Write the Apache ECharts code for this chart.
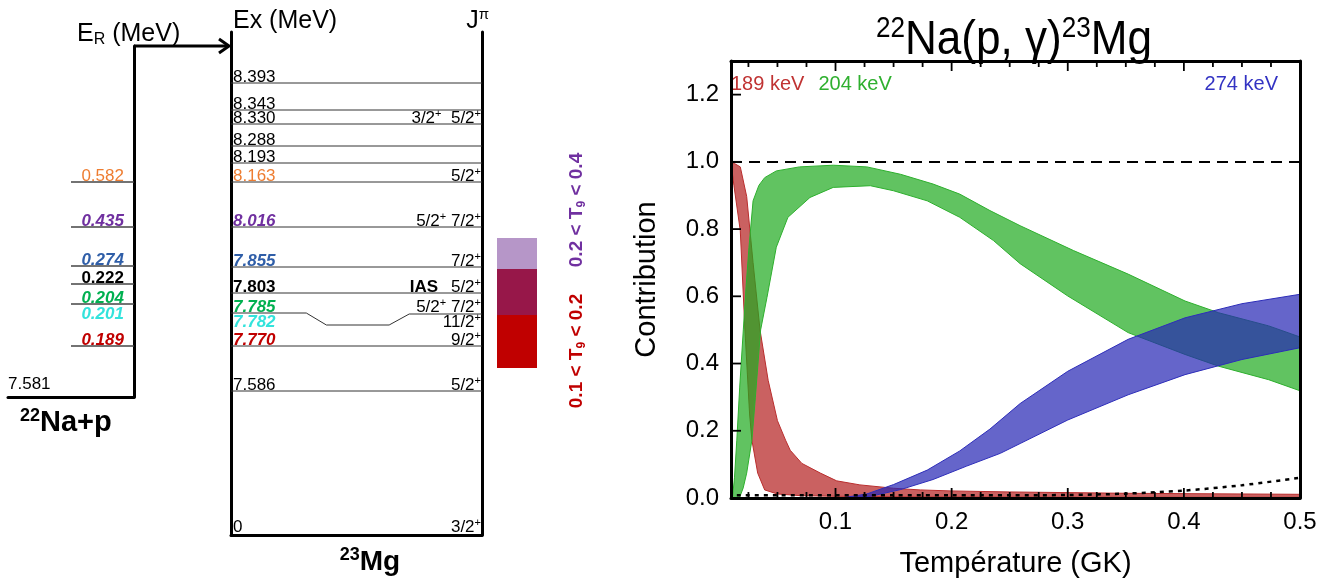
<!DOCTYPE html>
<html><head><meta charset="utf-8">
<script src="https://cdn.jsdelivr.net/npm/echarts@6/dist/echarts.min.js"></script>
<style>html,body{margin:0;padding:0;background:#fff}#c{width:1336px;height:582px}</style>
</head><body><div id="c"></div>
<script>
// ================= DATA =================
// Level scheme (schematic heights in arbitrary "slot" units)
const erLabels  = ['0.582','0.435','0.274','0.222','0.204','0.201','0.189'];
const erSlots   = [35.3, 30.8, 26.9, 25.1, 23.1, 21.5, 18.9];
const erHasLine = [true, true, true, true, true, false, true];
const erKey     = ['r582','r435','r274','r222','r204','r201','r189'];

const mgLabels = ['8.393','8.343','8.330','8.288','8.193','8.163','8.016','7.855','7.803','7.785','7.782','7.770','7.586','0'];
const mgSlots  = [45.2, 42.5, 41.1, 38.9, 37.2, 35.3, 30.8, 26.8, 24.2, 22.2, 20.7, 18.9, 14.4, 0];
const mgJpi    = ['','','3/2+  5/2+','','','5/2+','5/2+ 7/2+','7/2+','5/2+','5/2+ 7/2+','11/2+','9/2+','5/2+','3/2+'];
const mgNote   = ['','','','','','','','','IAS','','','','',''];
const mgLine   = ['line','line','line','line','line','line','line','line','line','kink','none','line','line','axis'];
const mgKey    = [null,null,null,null,null,'r582','r435','r274','r222','r204','r201','r189',null,null];

const naThreshold = '7.581';
const windowLabels = ['0.1 < T|9| < 0.2', '0.2 < T|9| < 0.4'];
const windowLow  = [16.7, 22.0];
const windowHigh = [26.6, 29.7];

// Contribution plot
const xMajorTicks = [0.1, 0.2, 0.3, 0.4, 0.5];
const xMinorTicks = [0.025,0.05,0.075,0.125,0.15,0.175,0.225,0.25,0.275,0.325,0.35,0.375,0.425,0.45,0.475];
const yTicks = [0, 0.2, 0.4, 0.6, 0.8, 1.0, 1.2];
const unityLevel = 1.0;

const redUpT = [0.010,0.013,0.018,0.0235,0.029,0.035,0.042,0.050,0.057,0.061,0.071,0.087,0.101,0.121,0.150,0.173,0.20,0.25,0.30,0.35,0.40,0.45,0.50];
const redUp  = [1.00, 0.995,0.985,0.897, 0.70, 0.50, 0.35, 0.23, 0.172,0.142,0.103,0.074,0.051,0.039,0.029,0.024,0.021,0.018,0.016,0.014,0.013,0.012,0.011];
const redLoT = [0.010,0.0125,0.018,0.022,0.026,0.028,0.033,0.039,0.050,0.070,0.10,0.20,0.30,0.40,0.50];
const redLo  = [1.00, 0.93,  0.795,0.50, 0.25, 0.172,0.074,0.024,0.012,0.007,0.005,0.003,0.002,0.002,0.002];

const greenUpT = [0.0112,0.013,0.015,0.0175,0.0206,0.023,0.0255,0.029,0.034,0.039,0.049,0.069,0.098,0.127,0.156,0.184,0.207,0.233,0.259,0.305,0.352,0.401,0.430,0.473,0.50];
const greenUp  = [0.0,   0.06, 0.172,0.33,  0.50,  0.63, 0.746, 0.884,0.93, 0.953,0.973,0.985,0.99, 0.985,0.963,0.934,0.904,0.855,0.81, 0.736,0.666,0.586,0.551,0.512,0.479];
const greenLoT = [0.0172,0.0205,0.0235,0.028,0.031,0.0355,0.041,0.049,0.059,0.078,0.098,0.130,0.150,0.179,0.207,0.236,0.259,0.300,0.352,0.401,0.430,0.473,0.500];
const greenLo  = [0.0,   0.03,  0.074, 0.172,0.30, 0.50,  0.597,0.746,0.835,0.894,0.924,0.929,0.914,0.884,0.835,0.766,0.697,0.601,0.492,0.427,0.392,0.352,0.319];

const blueUpT = [0.105,0.127,0.150,0.179,0.207,0.233,0.259,0.300,0.352,0.401,0.450,0.500];
const blueUp  = [0.0,  0.012,0.040,0.083,0.140,0.205,0.281,0.377,0.472,0.536,0.578,0.606];
const blueLoT = [0.105,0.130,0.156,0.184,0.213,0.242,0.259,0.300,0.352,0.401,0.450,0.500];
const blueLo  = [0.0,  0.005,0.025,0.055,0.095,0.133,0.162,0.232,0.307,0.367,0.412,0.447];

const dotT = [0.015,0.05,0.10,0.15,0.20,0.25,0.30,0.35,0.40,0.45,0.50];
const dotV = [0.008,0.008,0.008,0.008,0.008,0.008,0.009,0.013,0.022,0.038,0.060];

const bandNames = ['189 keV', '204 keV', '274 keV'];

// ================= STYLE / LAYOUT =================
const FONT = 'Liberation Sans, Arial, sans-serif';
const NARROW = '"Liberation Sans Narrow", "Arial Narrow", "Liberation Sans", sans-serif';
const RES_STYLE = {
  r582: {fill:'#ee7d31', fontWeight:'normal', fontStyle:'normal'},
  r435: {fill:'#7030a0', fontWeight:'bold', fontStyle:'italic'},
  r274: {fill:'#2f5ea8', fontWeight:'bold', fontStyle:'italic'},
  r222: {fill:'#000000', fontWeight:'bold', fontStyle:'normal'},
  r204: {fill:'#00b050', fontWeight:'bold', fontStyle:'italic'},
  r201: {fill:'#33e3dc', fontWeight:'bold', fontStyle:'italic'},
  r189: {fill:'#c00000', fontWeight:'bold', fontStyle:'italic'}
};
const PLAIN = {fill:'#000', fontWeight:'normal', fontStyle:'normal'};
const BAND_FILL   = ['rgba(180,30,30,0.7)', 'rgba(30,170,30,0.7)', 'rgba(35,35,180,0.7)'];
const BAND_STROKE = ['rgb(185,45,45)', 'rgb(45,175,45)', 'rgb(45,45,185)'];
const BAND_TEXT   = ['#c03333', '#2fb02f', '#3333c3'];
const WINDOW_FILL = ['#c00000', 'rgba(110,45,145,0.5)'];
const WINDOW_TEXT = ['#c00000', '#7030a0'];
const X_MIN = 0.01, X_MAX = 0.5, Y_MIN = 0, Y_MAX = 1.3;
const TICK_MAJOR = 10, TICK_MINOR = 6;

const L = {
  na:   {left: 8,   top: 46, width: 126, height: 351},
  mg:   {left: 231, top: 32, width: 251, height: 503},
  win:  {left: 497, top: 32, width: 40,  height: 503},
  plot: {left: 731, top: 61, width: 569, height: 437}
};
const MG_MAX = 50.3;
const pxPerSlot = L.mg.height / MG_MAX;
const mgBottom = L.mg.top + L.mg.height;
const naMin = (mgBottom - (L.na.top + L.na.height)) / pxPerSlot;
const naMax = (mgBottom - L.na.top) / pxPerSlot;
const LBL = 17;

function jpiRich(s) {
  return s.split('+').map((p, i, arr) => (p ? '{n|' + p + '}' : '') + (i < arr.length - 1 ? '{p|+}' : '')).join('');
}
const JPI_RICH = {
  n: {fontSize: LBL, fontFamily: FONT, fill: '#000', lineHeight: 20},
  p: {fontSize: 11, fontFamily: FONT, fill: '#000', lineHeight: 12, verticalAlign: 'top'}
};
function lblText(x, y, text, st, align) {
  return {type: 'text', x: x, y: y, style: {text: text, fill: st.fill, fontSize: LBL, fontFamily: FONT,
    fontWeight: st.fontWeight, fontStyle: st.fontStyle, align: align, verticalAlign: 'middle'}};
}

// ================= SERIES =================
const naSeries = {
  type: 'custom', name: 'ER', xAxisIndex: 0, yAxisIndex: 0, silent: true, clip: false,
  data: erSlots.map(s => [0, s]),
  renderItem(params, api) {
    const i = params.dataIndex, s = api.value(1);
    const a = api.coord([0.5, s]), b = api.coord([1, s]), t = api.coord([0.92, s]);
    const ch = [];
    if (erHasLine[i]) ch.push({type: 'line', shape: {x1: a[0], y1: a[1], x2: b[0], y2: b[1]}, style: {stroke: '#444', lineWidth: 1.3}});
    ch.push(lblText(t[0], t[1] - 5.5, erLabels[i], RES_STYLE[erKey[i]] || PLAIN, 'right'));
    return {type: 'group', children: ch};
  }
};

const mgSeries = {
  type: 'custom', name: 'Mg', xAxisIndex: 1, yAxisIndex: 1, silent: true, clip: false,
  data: mgSlots.map(s => [0, s]),
  renderItem(params, api) {
    const i = params.dataIndex, s = api.value(1);
    const pL = api.coord([0, s]), pR = api.coord([1, s]);
    const fx = f => api.coord([f, s])[0];
    const ch = [];
    const kind = mgLine[i];
    if (kind === 'line') ch.push({type: 'line', shape: {x1: pL[0], y1: pL[1], x2: pR[0], y2: pR[1]}, style: {stroke: '#333', lineWidth: 1}});
    if (kind === 'kink') {
      const dy = api.coord([0, s - 1.2])[1];
      ch.push({type: 'polyline', shape: {points: [pL, [fx(0.3), pL[1]], [fx(0.38), dy], [fx(0.63), dy], [fx(0.71), pL[1] + 1], [pR[0], pR[1] + 1]]},
        style: {stroke: '#333', lineWidth: 1, fill: null}});
    }
    const off = kind === 'axis' ? 8 : 5.5;
    const st = RES_STYLE[mgKey[i]] || PLAIN;
    ch.push(lblText(pL[0] + 2, pL[1] - off, mgLabels[i], st, 'left'));
    if (mgJpi[i]) ch.push({type: 'text', x: pR[0] - 1, y: pL[1] - off, style: {text: jpiRich(mgJpi[i]), rich: JPI_RICH, align: 'right', verticalAlign: 'middle', fill: '#000'}});
    if (mgNote[i]) ch.push(lblText(pR[0] - 44, pL[1] - off, mgNote[i], {fill: '#000', fontWeight: 'bold', fontStyle: 'normal'}, 'right'));
    return {type: 'group', children: ch};
  }
};

const winSeries = {
  type: 'custom', name: 'windows', xAxisIndex: 2, yAxisIndex: 3, silent: true, clip: false,
  data: windowLow.map((lo, i) => [0, lo, windowHigh[i]]),
  renderItem(params, api) {
    const i = params.dataIndex;
    const p0 = api.coord([0, api.value(2)]), p1 = api.coord([1, api.value(1)]);
    return {type: 'rect', shape: {x: p0[0], y: p0[1], width: p1[0] - p0[0], height: p1[1] - p0[1]}, style: {fill: WINDOW_FILL[i]}};
  }
};

function bandSeries(k, upT, up, loT, lo) {
  return {
    type: 'custom', name: bandNames[k], xAxisIndex: 3, yAxisIndex: 4, clip: true, silent: true,
    data: [[upT[0], up[0]]],
    renderItem(params, api) {
      const pts = upT.map((t, j) => api.coord([t, up[j]]));
      for (let j = loT.length - 1; j >= 0; j--) pts.push(api.coord([loT[j], lo[j]]));
      return {type: 'polygon', shape: {points: pts}, style: {fill: BAND_FILL[k], stroke: BAND_STROKE[k], lineWidth: 1}};
    }
  };
}

const dotSeries = {
  type: 'line', name: 'total', xAxisIndex: 3, yAxisIndex: 4, silent: true,
  data: dotT.map((t, j) => [t, dotV[j]]), symbol: 'none', smooth: 0.3,
  lineStyle: {color: '#000', width: 2.5, type: [4, 5]}, z: 5,
  markLine: {silent: true, symbol: ['none', 'none'], label: {show: false},
    lineStyle: {color: '#000', width: 2, type: [11, 7]}, data: [{yAxis: unityLevel}]}
};

// Frame tick marks (inside), placed through the plot's own scales
const tickItems = []
  .concat(xMajorTicks.map(v => [v, Y_MIN, 0]))
  .concat(xMinorTicks.map(v => [v, Y_MIN, 1]))
  .concat(yTicks.map(v => [X_MIN, v, 2]));
const tickSeries = {
  type: 'custom', name: 'ticks', xAxisIndex: 3, yAxisIndex: 4, silent: true, clip: false, z: 20,
  data: tickItems,
  renderItem(params, api) {
    const kind = api.value(2);
    const st = {stroke: '#000', lineWidth: 1.8};
    if (kind === 2) {
      const p = api.coord([X_MIN, api.value(1)]);
      return {type: 'line', shape: {x1: p[0], y1: p[1], x2: p[0] + TICK_MAJOR, y2: p[1]}, style: st};
    }
    const len = kind === 0 ? TICK_MAJOR : TICK_MINOR;
    const b = api.coord([api.value(0), Y_MIN]), t = api.coord([api.value(0), Y_MAX]);
    return {type: 'group', children: [
      {type: 'line', shape: {x1: b[0], y1: b[1], x2: b[0], y2: b[1] - len}, style: st},
      {type: 'line', shape: {x1: t[0], y1: t[1], x2: t[0], y2: t[1] + len}, style: st}
    ]};
  }
};

// ================= AXES =================
function hid() { return {show: false}; }
function frameLine() { return {show: true, onZero: false, lineStyle: {color: '#000', width: 3}}; }
function frameAxis(extra) {
  return Object.assign({type: 'value', axisLine: frameLine(), axisTick: hid(), axisLabel: hid(), splitLine: hid()}, extra);
}

const xAxes = [
  frameAxis({gridIndex: 0, min: 0, max: 1, position: 'bottom'}),
  frameAxis({gridIndex: 1, min: 0, max: 1, position: 'bottom'}),
  {gridIndex: 2, type: 'value', min: 0, max: 1, show: false},
  {gridIndex: 3, type: 'value', min: X_MIN, max: X_MAX, position: 'bottom', z: 10,
    axisLine: frameLine(), axisTick: hid(),
    axisLabel: {show: true, customValues: xMajorTicks, formatter: v => v.toFixed(1), color: '#000', fontSize: 24, margin: 12, fontFamily: FONT},
    splitLine: hid(),
    name: 'Température (GK)', nameLocation: 'middle', nameGap: 51,
    nameTextStyle: {fontSize: 29, color: '#000', fontFamily: FONT}},
  frameAxis({gridIndex: 3, min: X_MIN, max: X_MAX, position: 'top', z: 10})
];
const yAxes = [
  frameAxis({gridIndex: 0, min: naMin, max: naMax, position: 'right'}),
  frameAxis({gridIndex: 1, min: 0, max: MG_MAX, position: 'left'}),
  frameAxis({gridIndex: 1, min: 0, max: MG_MAX, position: 'right'}),
  {gridIndex: 2, type: 'value', min: 0, max: MG_MAX, show: false},
  {gridIndex: 3, type: 'value', min: Y_MIN, max: Y_MAX, position: 'left', z: 10,
    axisLine: frameLine(), axisTick: hid(),
    axisLabel: {show: true, customValues: yTicks, formatter: v => v.toFixed(1), color: '#000', fontSize: 24, margin: 12, fontFamily: FONT},
    splitLine: hid(),
    name: 'Contribution', nameLocation: 'middle', nameGap: 70, nameRotate: 90,
    nameTextStyle: {fontSize: 29, color: '#000', fontFamily: FONT}},
  frameAxis({gridIndex: 3, min: Y_MIN, max: Y_MAX, position: 'right', z: 10})
];

function g(b) { return {left: b.left, top: b.top, width: b.width, height: b.height, containLabel: false, outerBoundsMode: 'none'}; }

// ================= GRAPHIC (annotation text + arrow) =================
const naTopY = L.na.top, naRight = L.na.left + L.na.width;
const graphic = [
  {type: 'polyline', shape: {points: [[naRight, naTopY], [L.mg.left - 2, naTopY]]}, style: {stroke: '#000', lineWidth: 3, fill: null}},
  {type: 'polyline', shape: {points: [[L.mg.left - 12, naTopY - 7], [L.mg.left - 2, naTopY], [L.mg.left - 12, naTopY + 7]]}, style: {stroke: '#000', lineWidth: 3, fill: null}},
  {type: 'text', x: 77, y: 34, style: {text: '{b|E}{r|R}{b| (MeV)}', align: 'left', verticalAlign: 'middle',
    rich: {b: {fontSize: 25, fontFamily: FONT, fill: '#000', lineHeight: 28}, r: {fontSize: 16, fontFamily: FONT, fill: '#000', lineHeight: 16, verticalAlign: 'bottom'}}}},
  {type: 'text', x: 233, y: 21, style: {text: 'Ex (MeV)', fontSize: 25, fontFamily: FONT, fill: '#000', align: 'left', verticalAlign: 'middle'}},
  {type: 'text', x: 489, y: 21, style: {text: '{b|J}{p|π}', align: 'right', verticalAlign: 'middle',
    rich: {b: {fontSize: 25, fontFamily: FONT, fill: '#000', lineHeight: 28}, p: {fontSize: 15, fontFamily: FONT, fill: '#000', lineHeight: 16, verticalAlign: 'top'}}}},
  {type: 'text', x: L.na.left, y: L.na.top + L.na.height - 13, style: {text: naThreshold, fontSize: LBL, fontFamily: FONT, fill: '#000', align: 'left', verticalAlign: 'middle'}},
  {type: 'text', x: 20, y: 423, style: {text: '{s|22}{b|Na+p}', align: 'left', verticalAlign: 'middle',
    rich: {b: {fontSize: 29, fontWeight: 'bold', fontFamily: FONT, fill: '#000', lineHeight: 32}, s: {fontSize: 18, fontWeight: 'bold', fontFamily: FONT, fill: '#000', lineHeight: 19, verticalAlign: 'top'}}}},
  {type: 'text', x: 370, y: 562, style: {text: '{s|23}{b|Mg}', align: 'center', verticalAlign: 'middle',
    rich: {b: {fontSize: 28, fontWeight: 'bold', fontFamily: FONT, fill: '#000', lineHeight: 31}, s: {fontSize: 18, fontWeight: 'bold', fontFamily: FONT, fill: '#000', lineHeight: 19, verticalAlign: 'top'}}}},
  {type: 'text', x: 1014, y: 40, scaleX: 0.9, style: {text: '{s|22}{m|Na(p, γ)}{s|23}{m|Mg}', align: 'center', verticalAlign: 'middle',
    rich: {m: {fontSize: 49, fontFamily: NARROW, fill: '#000', lineHeight: 52}, s: {fontSize: 29, fontFamily: NARROW, fill: '#000', lineHeight: 26, verticalAlign: 'top'}}}}
];
const winLabelY = [351, 210];
windowLabels.forEach((t, i) => {
  const parts = t.split('|');
  graphic.push({type: 'text', x: 577, y: winLabelY[i], rotation: Math.PI / 2,
    style: {text: '{b|' + parts[0] + '}{u|' + parts[1] + '}{b|' + parts[2] + '}', align: 'center', verticalAlign: 'middle',
      rich: {b: {fontSize: 19, fontWeight: 'bold', fontFamily: FONT, fill: WINDOW_TEXT[i], lineHeight: 22},
             u: {fontSize: 12, fontWeight: 'bold', fontFamily: FONT, fill: WINDOW_TEXT[i], lineHeight: 12, verticalAlign: 'bottom'}}}});
});

// ================= OPTION =================
function legendBase() {
  return {icon: 'none', itemWidth: 0, itemHeight: 14, itemGap: 9, selectedMode: false, padding: 0, top: 74,
    textStyle: {fontSize: 20, fontFamily: NARROW}};
}
const option = {
  animation: false,
  textStyle: {fontFamily: FONT},
  grid: [g(L.na), g(L.mg), g(L.win), g(L.plot)],
  xAxis: xAxes,
  yAxis: yAxes,
  legend: [
    Object.assign(legendBase(), {left: 726, data: [0, 1].map(k => ({name: bandNames[k], textStyle: {color: BAND_TEXT[k]}}))}),
    Object.assign(legendBase(), {right: 58, data: [{name: bandNames[2], textStyle: {color: BAND_TEXT[2]}}]})
  ],
  graphic: graphic,
  series: [
    naSeries, mgSeries, winSeries,
    bandSeries(0, redUpT, redUp, redLoT, redLo),
    bandSeries(1, greenUpT, greenUp, greenLoT, greenLo),
    bandSeries(2, blueUpT, blueUp, blueLoT, blueLo),
    dotSeries,
    tickSeries
  ]
};
const chart = echarts.init(document.getElementById('c'), null, {renderer: 'canvas'});
chart.setOption(option);
</script>
</body></html>
